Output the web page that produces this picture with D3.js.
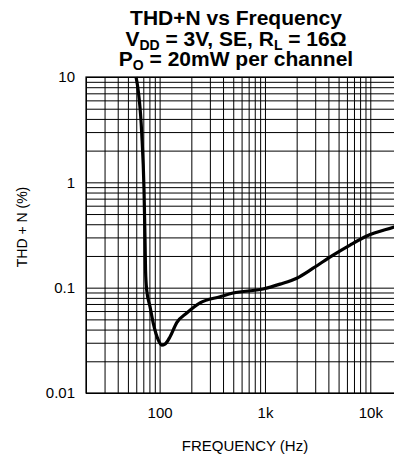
<!DOCTYPE html>
<html lang="en">
<head>
<meta charset="UTF-8">
<title>THD+N vs Frequency</title>
<script src="https://d3js.org/d3.v7.min.js"></script>
<style>
    body { margin: 0; background: #fff; }
    svg { display: block; font-family: "Liberation Sans", Arial, sans-serif; }
</style>
</head>
<body>
<div id="chart"></div>
<script>
    // curve (frequency in Hz, THD+N in %)
    const freq = [59.7, 67.6, 71.1, 72.7, 73.5, 75.4, 81.1, 87.1, 97.2, 104.7, 112.5, 125.6, 145.4, 180.9, 242, 375, 498, 960, 1391, 2005, 2864, 4435, 6427, 9270, 16830, 20000];
    const thd = [10, 2.94, 0.845, 0.283, 0.147, 0.0949, 0.0659, 0.0458, 0.0318, 0.0285, 0.0291, 0.0342, 0.0466, 0.0575, 0.0718, 0.082, 0.0889, 0.097, 0.108, 0.123, 0.153, 0.204, 0.254, 0.309, 0.376, 0.398];

    const xLabels = { 100: "100", 1000: "1k", 10000: "10k" };
    const yLabels = { 0.01: "0.01", 0.1: "0.1", 1: "1", 10: "10" };

    const width = 394, height = 459;
    const plotL = 86, plotR = 402, plotT = 77, plotB = 393;

    const svg = d3.select("#chart").append("svg")
        .attr("width", width)
        .attr("height", height);

    const x = d3.scaleLog().domain([20, 20000]).range([plotL, plotR]);
    const y = d3.scaleLog().domain([0.01, 10]).range([plotB, plotT]);

    // grid values 1..9 per decade
    const xGrid = [];
    for (let p = 10; p <= 10000; p *= 10)
        for (let k = 1; k <= 9; k++) {
            const v = k * p;
            if (v >= 20 && v <= 20000) xGrid.push(v);
        }
    const yGrid = [];
    for (let p = 0.01; p < 10; p *= 10)
        for (let k = 1; k <= 9; k++) yGrid.push(+(k * p).toPrecision(3));
    yGrid.push(10);

    const xAxis = svg.append("g")
        .attr("transform", `translate(0,${plotB})`)
        .call(d3.axisBottom(x).tickValues(xGrid).tickSize(-(plotB - plotT)).tickSizeOuter(0)
            .tickPadding(14).tickFormat(d => xLabels[d] || ""));

    const yAxis = svg.append("g")
        .attr("transform", `translate(${plotL},0)`)
        .call(d3.axisLeft(y).tickValues(yGrid).tickSize(-(plotR - plotL)).tickSizeOuter(0)
            .tickPadding(11).tickFormat(d => yLabels[d] || ""));

    [xAxis, yAxis].forEach(g => {
        g.select(".domain").remove();
        g.selectAll(".tick line").attr("stroke", "#000").attr("stroke-width", 1);
        g.selectAll(".tick text")
            .attr("fill", "#000")
            .style("font-family", "'Liberation Sans', Arial, sans-serif")
            .style("font-size", "15px");
    });

    // frame
    svg.append("rect")
        .attr("x", plotL).attr("y", plotT)
        .attr("width", plotR - plotL).attr("height", plotB - plotT)
        .attr("fill", "none").attr("stroke", "#000").attr("stroke-width", 1.2);

    // curve
    const line = d3.line()
        .x((d, i) => x(freq[i]))
        .y(d => y(d))
        .curve(d3.curveMonotoneX);

    svg.append("path")
        .datum(thd)
        .attr("d", line)
        .attr("fill", "none")
        .attr("stroke", "#000")
        .attr("stroke-width", 3.2)
        .attr("stroke-linejoin", "round");

    // title
    const title = svg.append("text")
        .attr("text-anchor", "middle")
        .style("font-weight", "bold")
        .style("font-size", "21px");
    title.append("tspan").attr("x", 236).attr("y", 25).text("THD+N vs Frequency");

    const t2 = title.append("tspan").attr("x", 236).attr("y", 45.5);
    t2.append("tspan").text("V");
    t2.append("tspan").attr("dy", 4).style("font-size", "14px").text("DD");
    t2.append("tspan").attr("dy", -4).text(" = 3V, SE, R");
    t2.append("tspan").attr("dy", 4).style("font-size", "14px").text("L");
    t2.append("tspan").attr("dy", -4).text(" = 16Ω");

    const t3 = title.append("tspan").attr("x", 236).attr("y", 66);
    t3.append("tspan").text("P");
    t3.append("tspan").attr("dy", 4).style("font-size", "14px").text("O");
    t3.append("tspan").attr("dy", -4).text(" = 20mW per channel");

    // axis titles
    svg.append("text")
        .attr("x", 245).attr("y", 451)
        .attr("text-anchor", "middle")
        .style("font-size", "15px")
        .text("FREQUENCY (Hz)");

    svg.append("text")
        .attr("transform", "translate(27,227) rotate(-90)")
        .attr("text-anchor", "middle")
        .style("font-size", "14px")
        .text("THD + N (%)");
</script>
</body>
</html>
